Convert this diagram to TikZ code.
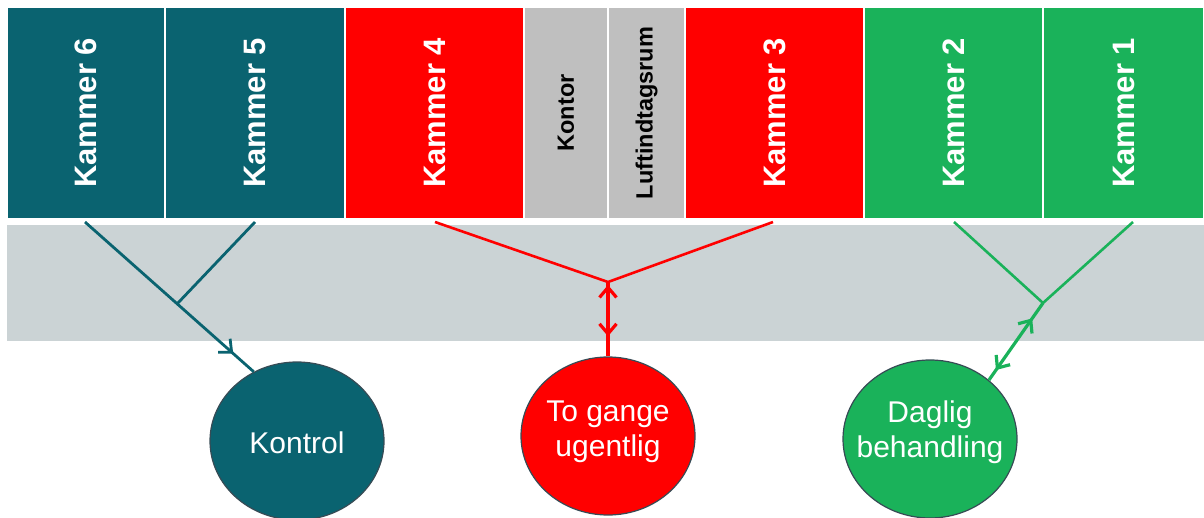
\documentclass[tikz,border=0pt]{standalone}
\usepackage{fontspec}
\setmainfont{Liberation Sans}
\usetikzlibrary{arrows.meta,decorations.markings,shapes.geometric}
\definecolor{kteal}{RGB}{10,99,112}
\definecolor{kred}{RGB}{255,0,0}
\definecolor{kgreen}{RGB}{26,178,90}
\definecolor{kgray}{RGB}{191,191,191}
\definecolor{kband}{RGB}{203,211,213}
\definecolor{kedge}{RGB}{55,75,85}

\begin{document}
\begin{tikzpicture}[x=0.5pt,y=-0.5pt,
  room/.style={rotate=90,draw=white,line width=1pt,minimum width=106pt,inner sep=0pt,
     text=white,font=\bfseries\fontsize{15.5}{18}\selectfont},
  smallroom/.style={room,fill=kgray,text=black,font=\bfseries\fontsize{11.75}{14}\selectfont},
  plan/.style={ellipse,draw=kedge,line width=0.6pt,minimum width=87pt,minimum height=79pt,
     inner sep=0pt},
  plantext/.style={text=white,align=center,font=\fontsize{15}{17.5}\selectfont},
  feed/.style={line width=1.3pt},
  midtip/.style={postaction={decorate,decoration={markings,
     mark=at position #1 with {\arrow{Straight Barb[length=5pt,width=9pt]}}}}},
  twotips/.style 2 args={postaction={decorate,decoration={markings,
     mark=at position #1 with {\arrowreversed{Straight Barb[length=5pt,width=8.5pt]}},
     mark=at position #2 with {\arrow{Straight Barb[length=5pt,width=8.5pt]}}}}}]
  \useasboundingbox (0,0) rectangle (1204,518);

  \foreach \cx/\w/\col/\nr in {86/158/kteal/6,255/180/kteal/5,434.5/179/kred/4,
                               774.5/179/kred/3,953.5/179/kgreen/2,1123.5/161/kgreen/1}
     \node [room,fill=\col,minimum height=\w*0.5pt] (k\nr) at (\cx,113) {Kammer \nr};
  \node [smallroom,minimum height=42pt] (kontor) at (566,113) {Kontor};
  \node [smallroom,minimum height=38.5pt] (luft) at (646.5,113) {Luftindtagsrum};

  \fill [kband] (7,225) rectangle (1204,341);

  \node [plan,fill=kteal,label={[plantext,yshift=-1pt]center:Kontrol}] (kontrol) at (297,441) {};
  \node [plan,fill=kred,label={[plantext,yshift=2pt]center:To gange\\ugentlig}] (togange) at (608,436) {};
  \node [plan,fill=kgreen,label={[plantext,yshift=3.5pt]center:Daglig\\behandling}] (daglig) at (930,439) {};

  \coordinate (a6) at (85,222);  \coordinate (a5) at (255,222);  \coordinate (j65) at (177,304);
  \coordinate (a4) at (435,222); \coordinate (a3) at (773,222);  \coordinate (j43) at (608,282);
  \coordinate (a2) at (954,222); \coordinate (a1) at (1133,222); \coordinate (j21) at (1043,303);

  \draw [kteal,line width=1.4pt,midtip=0.88] (a6) -- (kontrol.122);
  \draw [kteal,line width=1.4pt] (a5) -- (j65);
  \draw [kred,feed] (a4) -- (j43) -- (a3);
  \draw [kred,line width=1.6pt,twotips={0.04}{0.73}] (j43) -- (togange.north);
  \draw [kgreen,feed] (a2) -- (j21) -- (a1);
  \draw [kgreen,line width=1.6pt,twotips={0.2}{0.87}] (j21) -- (daglig.45);
\end{tikzpicture}
\end{document}
